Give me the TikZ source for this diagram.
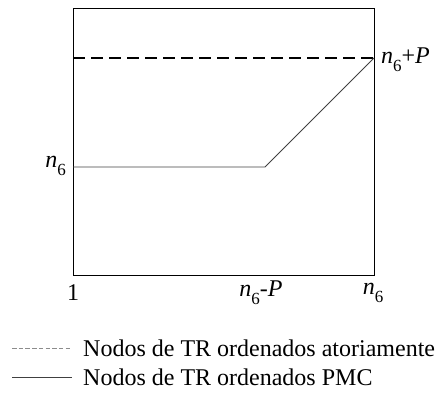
\documentclass[tikz,border=0pt]{standalone}
\usepackage{fontspec}
\setmainfont{Liberation Serif}
\newcommand{\nsix}{\textit{n}\raisebox{-0.75ex}{\fontsize{17}{17}\selectfont 6}}
\begin{document}
\begin{tikzpicture}[x=1pt,y=-1pt,
  lbl/.style={font=\fontsize{24}{27}\selectfont, inner sep=0pt},
  frame/.style={draw=black, line width=0.85pt},
  refline/.style={draw=black, line width=2pt, dash pattern=on 12pt off 6pt},
  curve/.style={draw=black!75, line width=0.8pt},
  legdash/.style={draw=black!45, line width=0.5pt, dash pattern=on 4.5pt off 2.2pt},
  legsolid/.style={draw=black!75, line width=0.9pt}]
  \useasboundingbox (0,0) rectangle (436,400);
  % plotting frame
  \coordinate (bl) at (73,275);
  \coordinate (tr) at (374,8);
  \draw[frame] (bl) rectangle (tr);
  % upper bound (dashed) and PMC curve
  \coordinate (dl) at (73,58);
  \coordinate (dr) at (374,58);
  \draw[refline] (dl) -- (dr);
  \coordinate (c0) at (73,167);
  \coordinate (c1) at (265,167);
  \draw[curve] (c0) -- (c1) -- (dr);
  % axis labels
  \node[lbl, anchor=east] (ly) at (66,166) {\nsix};
  \node[lbl, anchor=west] (ltop) at (381,60) {\nsix+\textit{P}};
  \node[lbl] (x1) at (73,293) {1};
  \node[lbl] (x2) at (261,293) {\nsix-\textit{P}};
  \node[lbl] (x3) at (373,293) {\nsix};
  % legend
  \coordinate (la0) at (12,348);
  \coordinate (la1) at (72,348);
  \draw[legdash] (la0) -- (la1);
  \node[lbl, anchor=west] (leg1) at (83,348) {Nodos de TR ordenados atoriamente};
  \coordinate (lb0) at (12,377);
  \coordinate (lb1) at (72,377);
  \draw[legsolid] (lb0) -- (lb1);
  \node[lbl, anchor=west] (leg2) at (83,377) {Nodos de TR ordenados PMC};
\end{tikzpicture}
\end{document}
